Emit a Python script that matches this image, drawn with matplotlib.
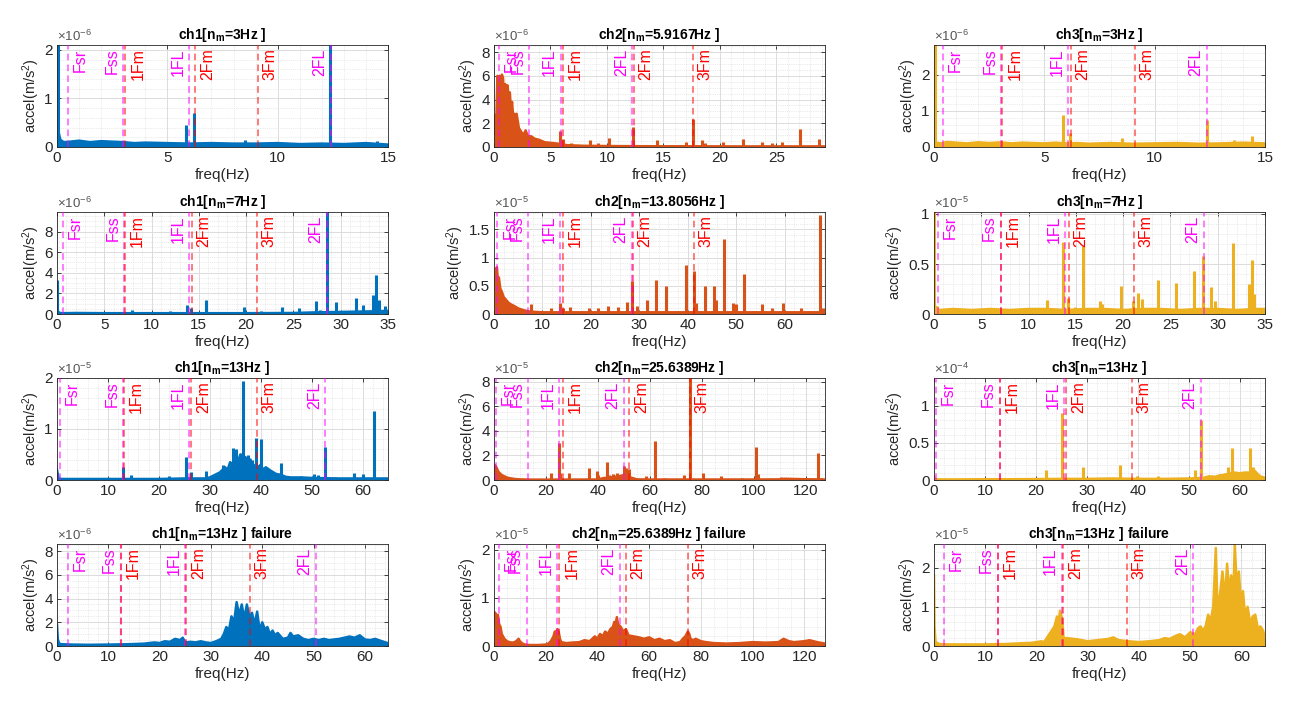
import matplotlib
matplotlib.use('Agg')
import matplotlib.pyplot as plt
from matplotlib.ticker import MultipleLocator, AutoMinorLocator, FuncFormatter

plt.rcParams['font.family'] = ['Liberation Sans', 'DejaVu Sans']
plt.rcParams['mathtext.fontset'] = 'custom'
plt.rcParams['mathtext.rm'] = 'Liberation Sans'
plt.rcParams['mathtext.it'] = 'Liberation Sans:italic'
plt.rcParams['mathtext.bf'] = 'Liberation Sans:bold'

BLUE = '#0072BD'
ORANGE = '#D95319'
YELLOW = '#EDB120'
MAGENTA = '#FF00FF'
RED = '#FF0000'

# marker names, in the order the frequency lists below use
MARK_NAMES = ['Fsr', 'Fss', '1Fm', '1FL', '2Fm', '2FL', '3Fm']

# ---------------- row 1 ----------------
p11_marks = [0.5, 3.0, 3.1, 6.0, 6.25, 12.4, 9.1]
p11_env_f = [0, 0.05, 0.15, 0.3, 0.6, 1, 1.5, 2, 2.5, 3, 3.5, 4, 5, 6, 7, 8, 9, 10, 11, 12, 13, 14, 15]
p11_env_a = [0.2, 0.35, 0.15, 0.1, 0.11, 0.13, 0.1, 0.12, 0.11, 0.1, 0.08, 0.09, 0.08, 0.07, 0.08, 0.07, 0.07, 0.08, 0.06, 0.07, 0.06, 0.08, 0.05]
p11_pk_f = [0.03, 5.85, 6.2, 8.5, 12.35, 14.5]
p11_pk_a = [2.5, 0.45, 0.7, 0.15, 2.5, 0.12]

p12_marks = [0.44, 3.1, 6.1, 5.9, 12.35, 12.25, 17.6]
p12_env_f = [0, 0.1, 0.2, 0.3, 0.4, 0.5, 0.6, 0.7, 0.8, 0.9, 1.0, 1.1, 1.2, 1.3, 1.4, 1.5, 1.6, 1.7, 1.8, 1.9, 2.0,
             2.2, 2.4, 2.6, 2.8, 3.0, 3.3, 3.6, 4.0, 4.5, 5.0, 5.5, 6.5, 8, 10, 12, 15, 18, 21, 24, 27, 29.3]
p12_env_a = [1.0, 2.7, 2.0, 6.0, 5.0, 6.0, 4.5, 6.1, 5.8, 4.2, 5.3, 5.0, 5.2, 4.0, 4.6, 3.2, 3.8, 2.5, 2.8, 2.0, 2.8,
             1.6, 1.3, 1.0, 1.4, 0.9, 0.9, 0.7, 0.6, 0.4, 0.35, 0.3, 0.15, 0.1, 0.08, 0.07, 0.06, 0.06, 0.05, 0.05, 0.05, 0.05]
p12_pk_f = [5.85, 6.1, 6.8, 8.5, 9.2, 10.2, 12.3, 14.4, 17.0, 17.6, 18.4, 18.7, 20.3, 22.0, 23.7, 24.6, 25.5, 27.1, 28.8]
p12_pk_a = [1.35, 0.7, 0.3, 0.6, 0.3, 0.75, 1.65, 0.6, 0.4, 2.35, 0.55, 0.35, 0.4, 0.7, 0.45, 0.35, 0.45, 1.55, 0.7]

p13_marks = [0.4, 3.05, 3.1, 6.06, 6.2, 12.37, 9.1]
p13_env_f = [0, 0.1, 0.3, 0.6, 1.0, 1.5, 2.0, 2.5, 3.0, 3.5, 4.0, 4.5, 5.0, 5.5, 6.0, 6.5, 7.0, 7.5, 8.0, 9.0, 10.0, 11.0, 12.0, 13.0, 14.0, 15.0]
p13_env_a = [0.15, 0.12, 0.1, 0.14, 0.12, 0.1, 0.13, 0.11, 0.13, 0.1, 0.12, 0.11, 0.1, 0.12, 0.1, 0.11, 0.09, 0.1, 0.11, 0.09, 0.1, 0.11, 0.09, 0.1, 0.12, 0.1]
p13_pk_f = [0.03, 5.85, 6.15, 8.5, 12.35, 13.6, 14.4]
p13_pk_a = [3.0, 0.88, 0.4, 0.25, 0.75, 0.18, 0.3]

# ---------------- row 2 ----------------
p21_marks = [0.6, 7.1, 7.15, 14.0, 14.25, 28.5, 21.1]
p21_env_f = [0, 0.3, 0.6, 2, 5, 10, 15, 20, 25, 27, 30, 33, 35]
p21_env_a = [0.3, 0.1, 0.08, 0.1, 0.08, 0.08, 0.08, 0.08, 0.1, 0.15, 0.2, 0.25, 0.3]
p21_pk_f = [0.03, 7.9, 11.9, 13.7, 14.2, 15.8, 19.8, 21.6, 23.8, 25.6, 27.4, 27.8, 28.5, 29.5, 30.1, 31.6, 32.4, 33.4, 33.7, 34.0, 34.7]
p21_pk_a = [3.3, 0.4, 0.3, 0.85, 0.6, 1.4, 0.7, 0.3, 0.65, 0.6, 1.3, 0.4, 11.0, 1.2, 0.3, 1.6, 0.9, 1.8, 3.8, 1.4, 0.8]

p22_marks = [0.7, 7.05, 14.2, 13.6, 28.6, 28.4, 41.2]
p22_env_f = [0, 0.2, 0.4, 0.6, 0.8, 1.0, 1.3, 1.6, 2.0, 2.5, 3.0, 3.5, 4, 5, 6, 7, 8, 10, 15, 20, 30, 40, 50, 60, 68.3]
p22_env_a = [0.45, 0.6, 0.8, 0.83, 0.6, 0.65, 0.45, 0.4, 0.3, 0.25, 0.2, 0.17, 0.15, 0.1, 0.07, 0.05, 0.04, 0.03, 0.03, 0.03, 0.03, 0.03, 0.03, 0.03, 0.03]
p22_pk_f = [7.6, 9.5, 11.7, 13.6, 14.2, 15.7, 19.7, 21.5, 23.6, 25.5, 27.5, 28.4, 29.5, 31.5, 33.5, 35.5, 37.6, 39.6, 41.2, 41.7,
            43.5, 45.3, 45.8, 47.5, 49.4, 49.9, 51.5, 53.4, 55.4, 57.3, 59.6, 63.3, 65.0, 67.2, 67.9]
p22_pk_a = [0.17, 0.06, 0.1, 0.2, 0.1, 0.13, 0.1, 0.1, 0.14, 0.12, 0.22, 0.58, 0.14, 0.24, 0.6, 0.5, 0.05, 0.87, 0.77, 0.2,
            0.5, 0.5, 0.25, 1.33, 0.2, 0.17, 0.71, 0.05, 0.18, 0.1, 0.2, 0.1, 0.05, 1.75, 0.1]

p23_marks = [0.4, 7.05, 7.1, 13.9, 14.25, 28.5, 21.1]
p23_env_f = [0, 0.2, 0.5, 2, 4, 6, 8, 10, 12, 14, 16, 18, 20, 22, 24, 26, 28, 30, 32, 34, 35]
p23_env_a = [0.08, 0.07, 0.04, 0.05, 0.04, 0.05, 0.04, 0.05, 0.05, 0.04, 0.05, 0.05, 0.04, 0.05, 0.05, 0.04, 0.05, 0.05, 0.04, 0.05, 0.05]
p23_pk_f = [0.03, 0.3, 11.9, 13.6, 14.2, 14.9, 15.8, 17.5, 17.8, 19.8, 21.0, 21.6, 22.0, 23.7, 25.6, 27.5, 28.4, 29.3, 29.7, 31.6, 33.3, 33.6, 33.8, 34.8]
p23_pk_a = [1.1, 0.08, 0.14, 0.72, 0.16, 0.07, 0.68, 0.13, 0.1, 0.28, 0.13, 0.21, 0.15, 0.34, 0.31, 0.43, 0.58, 0.27, 0.13, 0.71, 0.3, 0.54, 0.2, 0.06]

# ---------------- row 3 ----------------
p31_marks = [0.65, 13.0, 13.1, 26.0, 26.3, 52.7, 39.2]
p31_env_f = [0, 0.3, 1, 5, 10, 15, 20, 25, 29, 30, 31, 32, 33, 33.5, 34, 34.5, 35, 35.5, 36, 36.5, 37, 37.5, 38, 38.5,
             39, 39.5, 40, 40.5, 41, 42, 43, 44, 45, 46, 48, 50, 55, 60, 65]
p31_env_a = [0.2, 0.03, 0.02, 0.02, 0.02, 0.02, 0.02, 0.03, 0.03, 0.05, 0.1, 0.15, 0.25, 0.2, 0.35, 0.3, 0.45, 0.35, 0.5, 0.4,
             0.45, 0.35, 0.4, 0.25, 0.3, 0.25, 0.3, 0.2, 0.25, 0.18, 0.12, 0.1, 0.06, 0.05, 0.05, 0.04, 0.03, 0.03, 0.03]
p31_pk_f = [13.0, 14.5, 21.9, 25.4, 26.3, 29.3, 32.5, 34.6, 35.2, 36.3, 36.6, 37.5, 38.2, 39.0, 40.0, 44.0, 48.0, 50.5, 51.3, 52.6, 54.5, 58.3, 60.0, 62.3]
p31_pk_a = [0.25, 0.1, 0.08, 0.45, 0.15, 0.17, 0.3, 0.62, 0.6, 0.52, 1.95, 0.5, 0.4, 0.83, 0.8, 0.33, 0.08, 0.12, 0.1, 0.65, 0.05, 0.13, 0.12, 1.35]

p32_marks = [0.6, 13.1, 26.4, 25.1, 52.0, 50.1, 75.5]
p32_env_f = [0, 0.3, 0.6, 1, 1.5, 2, 3, 4, 5, 6, 8, 10, 15, 20, 40, 42, 48, 50, 52, 55, 60, 80, 100, 110, 112, 120, 128]
p32_env_a = [0.4, 1.2, 1.15, 1.0, 0.75, 0.6, 0.4, 0.3, 0.2, 0.15, 0.08, 0.05, 0.03, 0.03, 0.04, 0.15, 0.3, 0.4, 0.25, 0.05, 0.04, 0.04, 0.04, 0.05, 0.1, 0.06, 0.04]
p32_pk_f = [21.8, 25.0, 25.5, 29.0, 36.5, 39.5, 40.0, 43.5, 44.2, 46.0, 47.5, 50.0, 50.7, 52.0, 58.5, 62.0, 65.5, 73.2, 75.6, 80.5, 87.5, 95.5, 101.0, 101.6, 110.5, 117.5, 124.8, 126.0]
p32_pk_a = [0.55, 3.0, 0.6, 0.6, 1.0, 0.7, 0.4, 1.5, 0.4, 0.5, 0.55, 1.1, 1.0, 0.9, 0.3, 3.2, 0.2, 0.4, 9.0, 0.6, 0.35, 0.15, 2.7, 0.5, 0.25, 0.2, 2.2, 0.2]

p33_marks = [0.45, 12.9, 13.0, 25.6, 26.0, 52.4, 38.8]
p33_env_f = [0, 0.3, 1, 5, 10, 15, 20, 25, 30, 35, 40, 45, 50, 53, 54, 55, 56, 57, 58, 59, 60, 61, 62, 63, 64, 65]
p33_env_a = [0.05, 0.01, 0.008, 0.008, 0.01, 0.01, 0.012, 0.015, 0.015, 0.02, 0.015, 0.015, 0.02, 0.03, 0.05, 0.04, 0.06, 0.07, 0.09, 0.1, 0.09, 0.1, 0.1, 0.12, 0.05, 0.03]
p33_pk_f = [22.0, 25.1, 29.2, 36.5, 39.8, 44.0, 48.0, 51.2, 52.5, 54.6, 56.2, 57.8, 58.5, 62.0, 62.6]
p33_pk_a = [0.13, 0.9, 0.17, 0.2, 0.05, 0.05, 0.03, 0.13, 0.8, 0.07, 0.08, 0.18, 0.43, 0.43, 0.18]

# ---------------- row 4 (failure) ----------------
p41_marks = [2.1, 12.4, 12.5, 24.9, 25.2, 50.5, 37.6]
p41_env_f = [0, 0.15, 0.4, 1, 3, 6, 10, 14, 17, 19, 20, 21, 22, 23, 24, 24.5, 25, 26, 27, 28, 29, 30, 31, 32, 32.5, 33,
             33.5, 34, 34.5, 35, 35.5, 36, 36.5, 37, 37.5, 38, 38.5, 39, 39.5, 40, 40.5, 41, 41.5, 42, 42.5, 43, 44, 45,
             45.5, 46, 47, 48, 49, 50, 51, 52, 53, 54, 55, 56, 57, 58, 59, 60, 61, 62, 63, 64, 64.5]
p41_env_a = [1.8, 0.6, 0.2, 0.15, 0.12, 0.1, 0.12, 0.15, 0.2, 0.3, 0.25, 0.4, 0.35, 0.6, 0.5, 0.7, 0.3, 0.35, 0.3, 0.4, 0.3,
             0.25, 0.4, 0.6, 1.0, 1.6, 1.3, 2.5, 2.0, 3.7, 2.6, 3.5, 2.3, 3.5, 2.4, 2.8, 1.8, 2.9, 1.3, 2.0, 1.4, 1.6, 1.0,
             1.3, 0.9, 1.1, 0.6, 0.7, 1.1, 0.8, 0.9, 0.6, 0.5, 0.6, 0.5, 0.6, 0.5, 0.55, 0.6, 0.7, 0.8, 0.7, 0.9, 0.55,
             0.5, 0.6, 0.45, 0.3, 0.25]
p41_pk_f = []
p41_pk_a = []

p42_marks = [1.9, 12.6, 25.3, 24.4, 50.9, 48.7, 75.0]
p42_env_f = [0, 0.3, 0.6, 1.0, 1.5, 2.0, 2.5, 3, 4, 5, 6, 7, 8, 9, 9.5, 10, 11, 12, 14, 17, 20, 21, 22, 23, 23.5, 24,
             24.5, 25, 25.5, 26, 28, 30, 33, 35, 37, 39, 40, 41, 42, 43, 44, 45, 46, 46.5, 47, 47.5, 48, 49, 50, 51, 52,
             54, 56, 58, 60, 62, 64, 66, 68, 70, 72, 73, 74, 75, 75.5, 76, 77, 78, 80, 82, 85, 90, 95, 100, 105, 110,
             112, 114, 116, 120, 122, 125, 128]
p42_env_a = [0.45, 0.7, 0.68, 0.6, 0.65, 0.45, 0.4, 0.25, 0.15, 0.1, 0.08, 0.07, 0.08, 0.12, 0.15, 0.1, 0.05, 0.03, 0.02,
             0.02, 0.03, 0.05, 0.1, 0.2, 0.3, 0.28, 0.35, 0.3, 0.15, 0.08, 0.06, 0.07, 0.08, 0.12, 0.1, 0.2, 0.15, 0.25,
             0.2, 0.3, 0.25, 0.35, 0.4, 0.5, 0.45, 0.6, 0.45, 0.4, 0.3, 0.35, 0.22, 0.2, 0.18, 0.15, 0.18, 0.12, 0.15,
             0.1, 0.12, 0.06, 0.08, 0.15, 0.2, 0.3, 0.25, 0.15, 0.12, 0.15, 0.1, 0.08, 0.06, 0.05, 0.06, 0.08, 0.07,
             0.08, 0.15, 0.1, 0.08, 0.1, 0.12, 0.08, 0.05]
p42_pk_f = []
p42_pk_a = []

p43_marks = [2.0, 12.4, 12.5, 24.9, 25.2, 50.6, 37.6]
p43_env_f = [0, 0.1, 0.3, 1, 3, 6, 10, 14, 17, 19, 20, 21, 21.5, 22, 22.5, 23, 23.5, 24, 24.3, 24.6, 25, 25.3, 26, 28,
             30, 32, 34, 35, 36, 38, 40, 42, 44, 45, 46, 47, 48, 49, 50, 51, 51.5, 52, 52.5, 53, 53.5, 54, 54.5, 55,
             55.3, 55.8, 56.3, 56.8, 57.2, 57.6, 58, 58.4, 58.7, 59.1, 59.5, 59.9, 60.3, 60.7, 61.2, 61.7, 62.2, 62.7,
             63.2, 63.7, 64.2, 64.6]
p43_env_a = [1.8, 0.5, 0.1, 0.05, 0.04, 0.04, 0.04, 0.05, 0.07, 0.08, 0.1, 0.12, 0.1, 0.2, 0.3, 0.4, 0.5, 0.75, 0.6, 0.9,
             0.7, 0.2, 0.2, 0.17, 0.12, 0.15, 0.18, 0.22, 0.15, 0.12, 0.1, 0.12, 0.15, 0.2, 0.18, 0.25, 0.3, 0.22, 0.35,
             0.3, 0.45, 0.5, 0.4, 0.5, 0.8, 0.65, 1.0, 2.5, 1.1, 1.3, 1.9, 1.2, 2.1, 1.4, 1.8, 1.2, 2.6, 1.5, 1.9, 1.1,
             1.4, 0.8, 1.0, 0.6, 0.75, 0.8, 0.45, 0.5, 0.4, 0.2]
p43_pk_f = []
p43_pk_a = []

# title, colour, exponent, xmax, xstep, ymax, ystep
panels = [
    ('ch1[n$_\\mathbf{m}$=3Hz ]', BLUE, -6, 15, 5, 2.1, 1, p11_env_f, p11_env_a, p11_pk_f, p11_pk_a, p11_marks),
    ('ch2[n$_\\mathbf{m}$=5.9167Hz ]', ORANGE, -6, 29.3, 5, 8.6, 2, p12_env_f, p12_env_a, p12_pk_f, p12_pk_a, p12_marks),
    ('ch3[n$_\\mathbf{m}$=3Hz ]', YELLOW, -6, 15, 5, 2.82, 1, p13_env_f, p13_env_a, p13_pk_f, p13_pk_a, p13_marks),
    ('ch1[n$_\\mathbf{m}$=7Hz ]', BLUE, -6, 35, 5, 9.9, 2, p21_env_f, p21_env_a, p21_pk_f, p21_pk_a, p21_marks),
    ('ch2[n$_\\mathbf{m}$=13.8056Hz ]', ORANGE, -5, 68.3, 10, 1.81, 0.5, p22_env_f, p22_env_a, p22_pk_f, p22_pk_a, p22_marks),
    ('ch3[n$_\\mathbf{m}$=7Hz ]', YELLOW, -5, 35, 5, 1.02, 0.5, p23_env_f, p23_env_a, p23_pk_f, p23_pk_a, p23_marks),
    ('ch1[n$_\\mathbf{m}$=13Hz ]', BLUE, -5, 65, 10, 2.0, 1, p31_env_f, p31_env_a, p31_pk_f, p31_pk_a, p31_marks),
    ('ch2[n$_\\mathbf{m}$=25.6389Hz ]', ORANGE, -5, 127.5, 20, 8.3, 2, p32_env_f, p32_env_a, p32_pk_f, p32_pk_a, p32_marks),
    ('ch3[n$_\\mathbf{m}$=13Hz ]', YELLOW, -4, 65, 10, 1.37, 0.5, p33_env_f, p33_env_a, p33_pk_f, p33_pk_a, p33_marks),
    ('ch1[n$_\\mathbf{m}$=13Hz ] failure', BLUE, -6, 64.5, 10, 8.6, 2, p41_env_f, p41_env_a, p41_pk_f, p41_pk_a, p41_marks),
    ('ch2[n$_\\mathbf{m}$=25.6389Hz ] failure', ORANGE, -5, 128, 20, 2.12, 1, p42_env_f, p42_env_a, p42_pk_f, p42_pk_a, p42_marks),
    ('ch3[n$_\\mathbf{m}$=13Hz ] failure', YELLOW, -5, 64.6, 10, 2.6, 1, p43_env_f, p43_env_a, p43_pk_f, p43_pk_a, p43_marks),
]

fig = plt.figure(figsize=(13.13, 7.11), dpi=100)

lefts = [57 / 1313, 494 / 1313, 934 / 1313]
bottoms = [1 - 147 / 711, 1 - 314 / 711, 1 - 480 / 711, 1 - 646 / 711]
w = 331 / 1313
h = 102 / 711

fmt = FuncFormatter(lambda v, pos: '%g' % v)

for i, p in enumerate(panels):
    title, col, expo, xmax, xstep, ymax, ystep, ef, ea, pf, pa, marks = p
    ax = fig.add_axes([lefts[i % 3], bottoms[i // 3], w, h])

    ax.fill_between(ef, 0, ea, color=col, lw=0, zorder=2)
    ax.plot(ef, ea, color=col, lw=1.8, zorder=2)
    if len(pf):
        ax.vlines(pf, 0, pa, color=col, lw=2.2, zorder=2)

    for name, f in zip(MARK_NAMES, marks):
        mcol = RED if 'Fm' in name else MAGENTA
        ax.axvline(f, color=mcol, ls=(0, (4, 2.5)), lw=1.2, alpha=0.6, zorder=3)
        right = name in ('Fsr', '1Fm', '2Fm', '3Fm')
        ax.annotate(name, xy=(f, 0.965), xycoords=('data', 'axes fraction'),
                    xytext=(3.5 if right else -2.5, 0), textcoords='offset points',
                    rotation=90, ha='left' if right else 'right', va='top',
                    color=mcol, fontsize=11.5, zorder=4)

    ax.set_xlim(0, xmax)
    ax.set_ylim(0, ymax)
    ax.xaxis.set_major_locator(MultipleLocator(xstep))
    ax.yaxis.set_major_locator(MultipleLocator(ystep))
    ax.xaxis.set_minor_locator(AutoMinorLocator())
    ax.yaxis.set_minor_locator(AutoMinorLocator())
    ax.xaxis.set_major_formatter(fmt)
    ax.yaxis.set_major_formatter(fmt)
    ax.grid(True, which='major', color='#DCDCDC', lw=0.7, zorder=0)
    ax.grid(True, which='minor', color='#D8D8D8', lw=0.5, ls=':', zorder=0)
    ax.set_axisbelow(True)
    ax.tick_params(which='both', direction='in', top=True, right=True,
                   colors='#262626', labelsize=11, pad=3)
    ax.tick_params(which='major', length=3, width=0.6)
    ax.tick_params(which='minor', length=0)
    for s in ax.spines.values():
        s.set_color('#262626')
        s.set_linewidth(0.6)

    ax.set_title(title, fontsize=10, fontweight='bold', pad=4)
    ax.set_xlabel('freq(Hz)', fontsize=11, color='#262626', labelpad=2)
    ax.set_ylabel('accel(m/s$^2$)', fontsize=10.5, color='#262626', labelpad=2)
    ax.text(0, 1.01, '$\\times10^{%d}$' % expo, transform=ax.transAxes,
            ha='left', va='bottom', fontsize=9.5, color='#555555')

fig.savefig('out.png', dpi=100)
